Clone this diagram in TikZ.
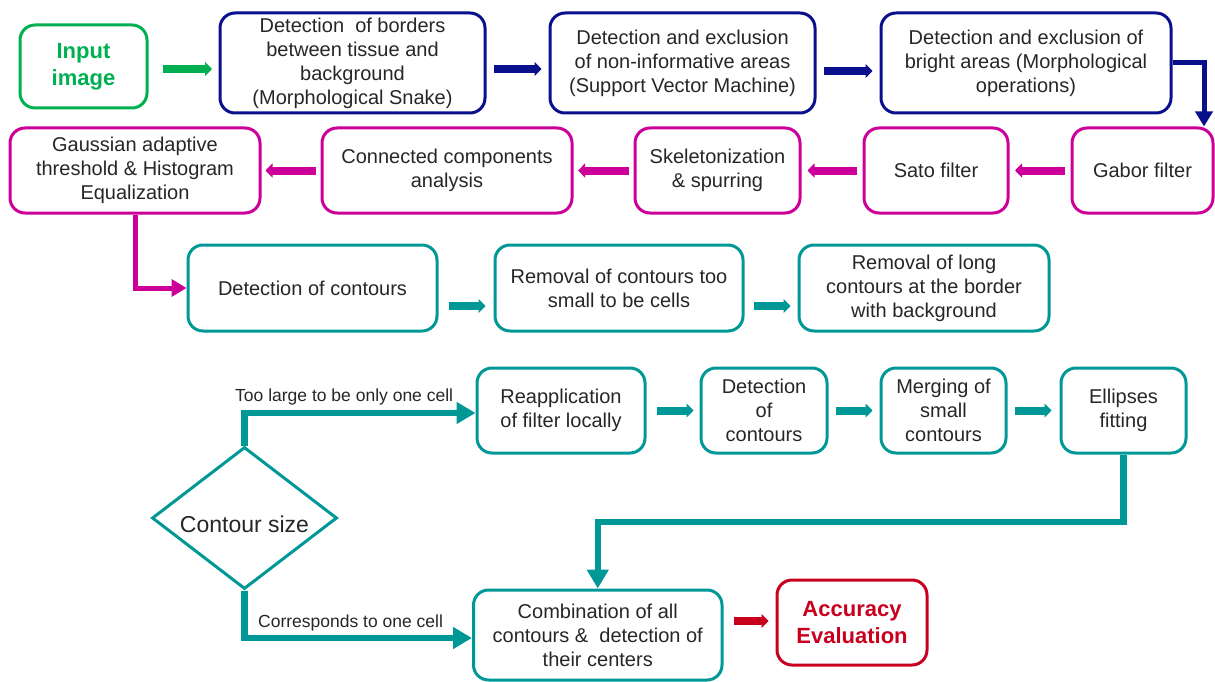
\documentclass[tikz,border=0pt]{standalone}
\usepackage{fontspec}
\setmainfont{Liberation Sans}
\usetikzlibrary{arrows.meta,shapes.geometric,calc}
\definecolor{cgreen}{RGB}{0,176,80}
\definecolor{cnavy}{RGB}{10,16,140}
\definecolor{cmag}{RGB}{204,0,153}
\definecolor{cteal}{RGB}{0,152,150}
\definecolor{cred}{RGB}{200,0,30}
\definecolor{ctext}{RGB}{38,38,38}
\tikzset{
  box/.style={draw, line width=3pt, rounded corners=15pt, align=center, inner sep=0pt,
    text=ctext, font=\fontsize{20}{24}\selectfont},
  blk/.style={line width=8pt, -{Triangle[length=7pt,width=14pt]}},
  elb/.style={line width=5pt, -{Triangle[length=15pt,width=17pt]}},
  branch/.style={line width=6.5pt, -{Triangle[length=19pt,width=21pt]}},
  lbl/.style={font=\fontsize{17.5}{20}\selectfont, text=ctext, inner sep=0pt},
}
\begin{document}
\begin{tikzpicture}[x=1pt,y=-1pt]
\useasboundingbox (0,0) rectangle (1215,682);
% row 1
\node[box, draw=cgreen, text=cgreen, font=\fontsize{22}{27}\selectfont\bfseries, minimum width=127pt, minimum height=83pt] (inp) at (83.5,66.5) {Input\\image};
\node[box, draw=cnavy, minimum width=265pt, minimum height=100pt] (bord) at (352.5,63) {Detection~~of borders\\between tissue and\\background\\(Morphological Snake)};
\node[box, draw=cnavy, minimum width=265pt, minimum height=100pt] (svm) at (682.5,63) {Detection and exclusion\\of non-informative areas\\(Support Vector Machine)};
\node[box, draw=cnavy, minimum width=290pt, minimum height=100pt] (bright) at (1026,63) {Detection and exclusion of\\bright areas (Morphological\\operations)};
% row 2
\node[box, draw=cmag, minimum width=141pt, minimum height=85pt] (gabor) at (1142.5,170.5) {Gabor filter};
\node[box, draw=cmag, minimum width=144pt, minimum height=85pt] (sato) at (936,170.5) {Sato filter};
\node[box, draw=cmag, minimum width=165pt, minimum height=85pt] (skel) at (717.5,170.5) {Skeletonization\\\& spurring};
\node[box, draw=cmag, minimum width=250pt, minimum height=85pt] (conn) at (447,170.5) {Connected components\\analysis};
\node[box, draw=cmag, minimum width=250pt, minimum height=85pt] (gauss) at (135,170.5) {Gaussian adaptive\\threshold \& Histogram\\Equalization};
% row 3
\node[box, draw=cteal, minimum width=249pt, minimum height=86pt] (det) at (312.5,288) {Detection of contours};
\node[box, draw=cteal, minimum width=248pt, minimum height=86pt] (small) at (619,288) {Removal of contours too\\small to be cells};
\node[box, draw=cteal, minimum width=250pt, minimum height=86pt] (long) at (924,288) {Removal of long\\contours at the border\\with background};
% row 4
\node[box, draw=cteal, minimum width=168pt, minimum height=85pt] (reap) at (561,410.5) {Reapplication\\of filter locally};
\node[box, draw=cteal, minimum width=126pt, minimum height=85pt] (det2) at (764,410.5) {Detection\\of\\contours};
\node[box, draw=cteal, minimum width=125pt, minimum height=85pt] (merge) at (943.5,410.5) {Merging of\\small\\contours};
\node[box, draw=cteal, minimum width=125pt, minimum height=85pt] (ell) at (1123.5,410.5) {Ellipses\\fitting};
% diamond
\node[draw=cteal, line width=3pt, shape=diamond, aspect=1.29, minimum width=185pt, minimum height=142pt, inner sep=0pt,
  text height=28pt, text depth=0pt,
  text=ctext, font=\fontsize{23}{26}\selectfont] (dia) at (244.5,518) {Contour size};
% bottom
\node[box, draw=cteal, minimum width=248.5pt, minimum height=90pt] (comb) at (597.75,635) {Combination of all\\contours \&~~detection of\\their centers};
\node[box, draw=cred, text=cred, font=\fontsize{22}{27}\selectfont\bfseries, minimum width=150pt, minimum height=85pt] (acc) at (852,622.5) {Accuracy\\Evaluation};
% arrows row 1
\draw[blk, cgreen] ([xshift=14pt,yshift=-2.5pt]inp.east) -- ([xshift=-6.5pt,yshift=-6pt]bord.west);
\draw[blk, cnavy] ([xshift=7pt,yshift=-6pt]bord.east) -- ([xshift=-7pt,yshift=-6pt]svm.west);
\draw[blk, cnavy] ([xshift=7pt,yshift=-8pt]svm.east) -- ([xshift=-7pt,yshift=-8pt]bright.west);
\draw[elb, cnavy] (bright.east) -| ([xshift=61.5pt]gabor.north);
% arrows row 2
\draw[blk, cmag] ([xshift=-6pt]gabor.west) -- ([xshift=5.5pt]sato.east);
\draw[blk, cmag] ([xshift=-5.5pt]sato.west) -- ([xshift=6pt]skel.east);
\draw[blk, cmag] ([xshift=-5pt]skel.west) -- ([xshift=4.6pt]conn.east);
\draw[blk, cmag] ([xshift=-5pt]conn.west) -- ([xshift=4pt]gauss.east);
\draw[elb, cmag] (gauss.south) |- (det.west);
% arrows row 3
\draw[blk, cteal] ([xshift=10pt,yshift=-18pt]det.east) -- ([xshift=-8pt,yshift=-18pt]small.west);
\draw[blk, cteal] ([xshift=9pt,yshift=-18pt]small.east) -- ([xshift=-7pt,yshift=-18pt]long.west);
% arrows row 4
\draw[blk, cteal] ([xshift=10pt]reap.east) -- ([xshift=-6pt]det2.west);
\draw[blk, cteal] ([xshift=7.5pt]det2.east) -- ([xshift=-7pt]merge.west);
\draw[blk, cteal] ([xshift=7pt]merge.east) -- ([xshift=-8pt]ell.west);
% branches
\draw[branch, cteal] (dia.north) |- ([yshift=-2.5pt]reap.west);
\draw[branch, cteal] (dia.south) |- ([yshift=-3pt]comb.west);
\node[lbl, anchor=south west] (lbltop) at (235,405) {Too large to be only one cell};
\node[lbl, anchor=south west] (lblbot) at (258,631) {Corresponds to one cell};
\coordinate (turn) at (1123,522);
\draw[branch, cteal] (ell.south) -- (ell.south |- turn) -| (comb.north);
% red
\draw[blk, cred] ([xshift=10pt,yshift=14pt]comb.east) -- ([xshift=-7pt,yshift=14pt]comb.east -| acc.west);
\end{tikzpicture}
\end{document}
